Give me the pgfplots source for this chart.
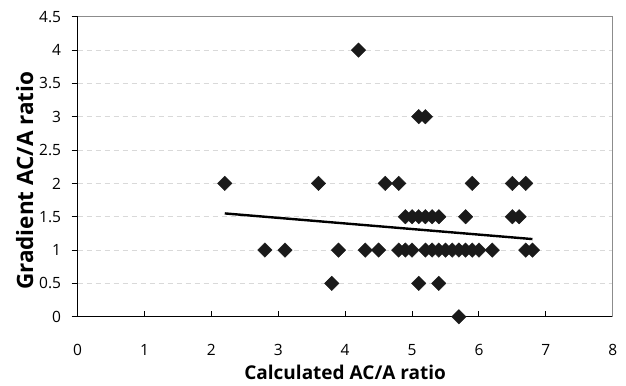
\documentclass[border=0pt]{standalone}
\usepackage{pgfplots}
\pgfplotsset{compat=1.18}
\usepackage{fontspec}
\setmainfont{Open Sans}
\definecolor{gridc}{RGB}{217,217,217}
\definecolor{boxc}{RGB}{140,140,140}
\definecolor{markc}{RGB}{26,26,26}
\begin{document}
\begin{tikzpicture}
\begin{axis}[
  name=ax,
  at={(0,0)}, anchor=south west,
  scale only axis,
  width=535bp, height=300bp,
  xmin=0, xmax=8, ymin=0, ymax=4.5,
  xtick={0,1,...,8},
  ytick={0,0.5,...,4.5},
  axis x line*=bottom, axis y line*=left,
  axis line style={black, line width=1.4bp},
  xtick align=inside, ytick align=outside,
  major tick length=6bp,
  tick style={black, line width=1bp},
  ymajorgrids,
  major grid style={gridc, dashed, line width=0.8bp, dash pattern=on 5bp off 4bp},
  /pgf/number format/assume math mode=true,
  ticklabel style={font=\fontsize{15.5bp}{17bp}\selectfont},
  yticklabel style={xshift=-7bp},
  xticklabel style={yshift=-24bp},
  xlabel={Calculated AC/A ratio},
  ylabel={Gradient AC/A ratio},
  xlabel style={font=\fontsize{19bp}{21bp}\selectfont\bfseries, yshift=-3bp},
  ylabel style={font=\fontsize{22.5bp}{24bp}\selectfont\bfseries, yshift=-1bp, xshift=-14bp},
  clip=false,
]
\draw[boxc, line width=1bp] (rel axis cs:0,1) -- (rel axis cs:1,1) -- (rel axis cs:1,0);
\addplot[only marks, mark=square*, mark size=5.1bp, mark options={rotate=45, fill=markc, draw=markc}] coordinates {
(4.2,4)
(5.1,3) (5.2,3)
(2.2,2) (3.6,2) (4.6,2) (4.8,2) (5.9,2) (6.5,2) (6.7,2)
(4.9,1.5) (5.0,1.5) (5.1,1.5) (5.2,1.5) (5.3,1.5) (5.4,1.5) (5.8,1.5) (6.5,1.5) (6.6,1.5)
(2.8,1) (3.1,1) (3.9,1) (4.3,1) (4.5,1) (4.8,1) (4.9,1) (5.0,1) (5.2,1) (5.3,1) (5.4,1) (5.5,1) (5.6,1) (5.7,1) (5.8,1) (5.9,1) (6.0,1) (6.2,1) (6.7,1) (6.8,1)
(3.8,0.5) (5.1,0.5) (5.4,0.5)
(5.7,0)
};
\addplot[black, line width=2.4bp] coordinates {(2.2,1.55) (6.8,1.165)};
\end{axis}
\pgfresetboundingbox
\path[use as bounding box] ([shift={(-77.6bp,-68.3bp)}]ax.south west) rectangle ([shift={(13.3bp,16.7bp)}]ax.north east);
\end{tikzpicture}
\end{document}
